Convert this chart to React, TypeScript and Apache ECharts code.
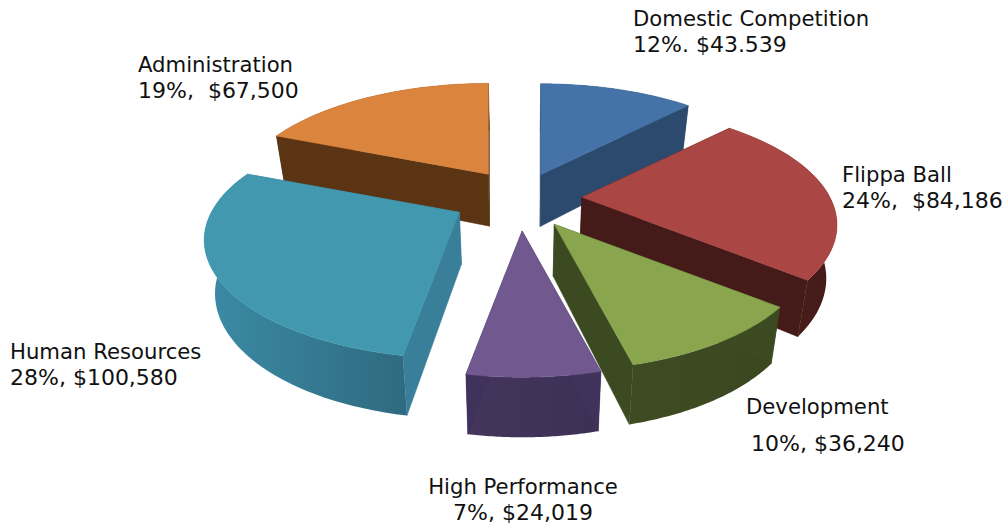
import React, { useEffect, useRef } from "react";
import * as echarts from "echarts";

// Data, clockwise from twelve o'clock
const categories = ["Domestic Competition", "Flippa Ball", "Development", "High Performance", "Human Resources", "Administration"];
const amounts = [43539, 84186, 36240, 24019, 100580, 67500];
const valueLabels = ["12%. $43.539", "24%,  $84,186", "10%, $36,240", "7%, $24,019", "28%, $100,580", "19%,  $67,500"];

// Styles
const topColors = ["#4573a7", "#aa4643", "#89a54e", "#71588f", "#4198af", "#db843d"];
const faceColors = ["#2c4a6e", "#451b19", "#3c4a22", "#40325a", "#3a7f9a", "#5b3413"];
const rimFrom = ["#2c4a6e", "#4c1e1c", "#3e4c23", "#43355c", "#3b8ba5", "#5b3413"];
const rimTo = ["#2c4a6e", "#451b19", "#3a4720", "#3d3056", "#2f6a80", "#5b3413"];
const explodeScale = [0.88, 1, 1, 1, 1.12, 1];
const nudgeX = [-1, 0, 0, -2, -4, 0];
const nudgeY = [0, 0, 0, 2, -3, 0];
const drawOrder = [5, 0, 1, 4, 2, 3];

// Projection of the tilted disc
const CX = 522, CY = 199, RX = 248, RY = 112, PERSP = 0.234;
const EX = 60, EY = 30, DEPTH_A = 26.5, DEPTH_B = 25.5, SHRINK = 0.966;

const total = amounts.reduce((s, v) => s + v, 0);

function renderSlice(_p: any, api: any) {
  const i = api.value(0);
  const a0 = api.value(1) / total * Math.PI * 2;
  const a1 = api.value(2) / total * Math.PI * 2;
  const mid = (a0 + a1) / 2;
  const ax = CX + EX * explodeScale[i] * Math.sin(mid) + nudgeX[i];
  const ay = CY - EY * explodeScale[i] * Math.cos(mid) + nudgeY[i];
  const top = (a: number): [number, number] => {
    const f = 1 / (1 + PERSP * Math.cos(a));
    return [ax + RX * Math.sin(a) * f, ay - RY * Math.cos(a) * f];
  };
  const low = (pt: [number, number], a: number): [number, number] => {
    const f = 1 / (1 + PERSP * Math.cos(a));
    return [CX + (pt[0] - CX) * SHRINK, pt[1] + DEPTH_A * f + DEPTH_B];
  };
  const apex: [number, number] = [ax, ay];
  const apexLow: [number, number] = [CX + (ax - CX) * SHRINK, ay + 52];
  const arc: [number, number][] = [];
  const arcLow: [number, number][] = [];
  const steps = 48;
  for (let k = 0; k <= steps; k++) {
    const a = a0 + (a1 - a0) * k / steps;
    const p = top(a);
    arc.push(p);
    arcLow.push(low(p, a));
  }
  const poly = (points: [number, number][], fill: any) => ({
    type: "polygon",
    shape: { points },
    style: { fill, stroke: typeof fill === "string" ? fill : "none", lineWidth: 0.5 },
  });
  const rimFill = new echarts.graphic.LinearGradient(0, 0, 1, 0, [
    { offset: 0, color: rimFrom[i] },
    { offset: 1, color: rimTo[i] },
  ]);
  return {
    type: "group",
    children: [
      poly([...arc, ...arcLow.slice().reverse()], rimFill),
      poly([apex, arc[0], arcLow[0], apexLow], faceColors[i]),
      poly([apex, arc[steps], arcLow[steps], apexLow], faceColors[i]),
      poly([apex, ...arc], topColors[i]),
    ],
  };
}

const labelLayout: { x: number; y: number; align: string; gap?: number; dx?: number }[] = [
  { x: 633, y: 18, align: "left" },
  { x: 842, y: 174, align: "left" },
  { x: 746, y: 406, align: "left", gap: 37, dx: 5 },
  { x: 523, y: 486, align: "center" },
  { x: 10, y: 351, align: "left" },
  { x: 138, y: 64, align: "left" },
];

const FONT = "'DejaVu Sans', Verdana, sans-serif";

export default function App() {
  const ref = useRef<HTMLDivElement>(null);
  useEffect(() => {
    const chart = echarts.init(ref.current!, undefined, { renderer: "svg" });
    const rows = drawOrder.map((i) => {
      const s = amounts.slice(0, i).reduce((a, v) => a + v, 0);
      return [i, s, s + amounts[i]];
    });
    const texts: any[] = [];
    categories.forEach((name, i) => {
      const l = labelLayout[i];
      const common = { fill: "#111111", textAlign: l.align, textVerticalAlign: "middle" };
      texts.push({ type: "text", x: l.x, y: l.y, silent: true, z: 10, style: { ...common, font: `21.2px ${FONT}`, text: name } });
      texts.push({
        type: "text",
        x: l.x + (l.dx ?? 0),
        y: l.y + (l.gap ?? 26),
        silent: true,
        z: 10,
        style: { ...common, font: `22px ${FONT}`, text: valueLabels[i] },
      });
    });
    chart.setOption({
      animation: false,
      backgroundColor: "#ffffff",
      graphic: { elements: texts },
      series: [
        {
          type: "custom",
          coordinateSystem: "none",
          renderItem: renderSlice,
          data: rows,
          silent: true,
        },
      ],
    });
    return () => chart.dispose();
  }, []);
  return <div ref={ref} style={{ position: "fixed", left: 0, top: 0, width: 1006, height: 524 }} />;
}
